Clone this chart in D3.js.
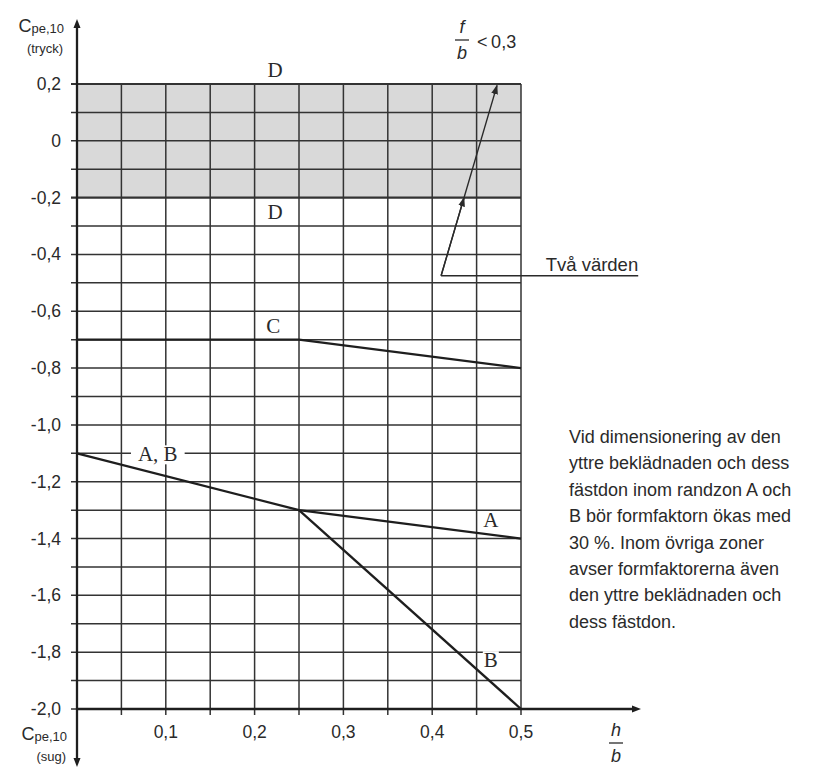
<!DOCTYPE html>
<html>
<head>
<meta charset="utf-8">
<script src="https://cdn.jsdelivr.net/npm/d3@7"></script>
<style>
  body { margin: 0; background: #fff; }
  svg { display: block; }
</style>
</head>
<body>
<div id="chart"></div>
<script>
// values
const xTicks = [0.1, 0.2, 0.3, 0.4, 0.5];
const xGrid = d3.range(0, 11).map(i => i * 0.05);
const yTicks = d3.range(0, 12).map(i => +(0.2 - i * 0.2).toFixed(1));
const yGrid = d3.range(0, 23).map(i => +(0.2 - i * 0.1).toFixed(1));
const zoneD = [0.2, -0.2];
const curveC = [[0, -0.7], [0.25, -0.7], [0.5, -0.8]];
const curveA = [[0, -1.1], [0.25, -1.3], [0.5, -1.4]];
const curveB = [[0.25, -1.3], [0.5, -2.0]];
const arrowLine = [[0.41, -0.475], [0.473, 0.195]];
const leaderEnd = 0.632;
const noteLines = [
  "Vid dimensionering av den",
  "yttre beklädnaden och dess",
  "fästdon inom randzon A och",
  "B bör formfaktorn ökas med",
  "30 %. Inom övriga zoner",
  "avser formfaktorerna även",
  "den yttre beklädnaden och",
  "dess fästdon."
];

const width = 816, height = 767;
const sans = "'Liberation Sans', Arial, sans-serif";
const serif = "'Liberation Serif', 'Times New Roman', serif";
const ink = "#2a2a2a";
const gridInk = "#333";

const svg = d3.select("#chart").append("svg")
  .attr("width", width).attr("height", height);

const defs = svg.append("defs");
defs.append("marker").attr("id", "head")
  .attr("viewBox", "0 0 10 10").attr("refX", 9).attr("refY", 5)
  .attr("markerWidth", 7).attr("markerHeight", 7).attr("orient", "auto")
  .append("path").attr("d", "M0,1.5 L10,5 L0,8.5 Z").attr("fill", ink);

const x = d3.scaleLinear().domain([0, 0.5]).range([77, 521]);
const y = d3.scaleLinear().domain([-2.0, 0.2]).range([709, 84]);

const fmt = d => {
  const s = d3.format(".1f")(d).replace("−", "-").replace(".", ",");
  return (s === "0,0" || s === "-0,0") ? "0" : s;
};

// gray zone D
svg.append("rect")
  .attr("x", x(0)).attr("y", y(zoneD[0]))
  .attr("width", x(0.5) - x(0)).attr("height", y(zoneD[1]) - y(zoneD[0]))
  .attr("fill", "#d9d9d9");

// grid
svg.append("g").selectAll("line").data(yGrid).join("line")
  .attr("x1", x(0) - 6).attr("x2", x(0.5))
  .attr("y1", d => y(d)).attr("y2", d => y(d))
  .attr("stroke", gridInk)
  .attr("stroke-width", d => (d === 0.2 || d === -0.2) ? 2.2 : 1.5);

svg.append("g").selectAll("line").data(xGrid).join("line")
  .attr("x1", d => x(d)).attr("x2", d => x(d))
  .attr("y1", y(0.2)).attr("y2", y(-2.0) + 6)
  .attr("stroke", gridInk).attr("stroke-width", 1.5);

// labels; some sit on a white box that interrupts the grid
function boxLabel(txt, px, py, size, pad) {
  const t = svg.append("text").attr("x", px).attr("y", py)
    .attr("font-family", serif).attr("font-size", size)
    .attr("text-anchor", "middle").attr("fill", ink).text(txt);
  if (pad !== null) {
    const b = t.node().getBBox();
    svg.insert("rect", "text")
      .attr("x", b.x - pad).attr("y", b.y + 3)
      .attr("width", b.width + 2 * pad).attr("height", b.height - 5)
      .attr("fill", "#fff");
  }
  return t;
}

const line = d3.line().x(d => x(d[0])).y(d => y(d[1]));
const curves = svg.append("g");

boxLabel("A, B", x(0.091), y(-1.1) + 8, 21, 7);
boxLabel("A", x(0.466), y(-1.3) + 17, 21, 1);
boxLabel("B", x(0.466), y(-1.8) + 15, 21, 1);

[curveC, curveA, curveB].forEach(c => {
  curves.append("path").datum(c).attr("d", line)
    .attr("fill", "none").attr("stroke", "#1e1e1e").attr("stroke-width", 2.3);
});

boxLabel("D", x(0.223), y(0.2) - 7, 21, null);
boxLabel("D", x(0.223), y(-0.2) + 21, 21, null);
boxLabel("C", x(0.221), y(-0.7) - 7, 21, null);

// axes
svg.append("line").attr("x1", x(0)).attr("x2", x(0))
  .attr("y1", 26).attr("y2", 762)
  .attr("stroke", "#1e1e1e").attr("stroke-width", 2.3);
svg.append("path").attr("d", `M${x(0)},19 l-3.5,9 l7,0 Z`).attr("fill", "#1e1e1e");
svg.append("path").attr("d", `M${x(0)},767 l-3.5,-9 l7,0 Z`).attr("fill", "#1e1e1e");
svg.append("line").attr("x1", x(0)).attr("x2", 634)
  .attr("y1", y(-2.0)).attr("y2", y(-2.0))
  .attr("stroke", "#1e1e1e").attr("stroke-width", 2.3);
svg.append("path").attr("d", `M641,${y(-2.0)} l-9,-3.5 l0,7 Z`).attr("fill", "#1e1e1e");

// tick labels
svg.append("g").selectAll("text").data(yTicks).join("text")
  .attr("x", 61).attr("y", d => y(d) + 6)
  .attr("text-anchor", "end").attr("font-family", sans).attr("font-size", 17.5)
  .attr("fill", ink).text(fmt);

svg.append("g").selectAll("text").data(xTicks).join("text")
  .attr("x", d => x(d)).attr("y", 738)
  .attr("text-anchor", "middle").attr("font-family", sans).attr("font-size", 17.5)
  .attr("fill", ink).text(fmt);

// axis titles
function cpe(px, py, sub) {
  const t = svg.append("text").attr("x", px).attr("y", py)
    .attr("text-anchor", "end").attr("font-family", sans).attr("fill", ink);
  t.append("tspan").attr("font-size", 18).text("C");
  t.append("tspan").attr("font-size", 13).attr("dy", 1).text("pe,10");
  svg.append("text").attr("x", px - 1).attr("y", py + 21)
    .attr("text-anchor", "end").attr("font-family", sans).attr("font-size", 13)
    .attr("fill", ink).text(sub);
}
cpe(64, 32, "(tryck)");
cpe(67, 740, "(sug)");

function fraction(cx, top, num, den) {
  svg.append("text").attr("x", cx).attr("y", top)
    .attr("text-anchor", "middle").attr("font-family", sans)
    .attr("font-style", "italic").attr("font-size", 18).attr("fill", ink).text(num);
  svg.append("line").attr("x1", cx - 7).attr("x2", cx + 7)
    .attr("y1", top + 7).attr("y2", top + 7).attr("stroke", ink).attr("stroke-width", 1.3);
  svg.append("text").attr("x", cx).attr("y", top + 26)
    .attr("text-anchor", "middle").attr("font-family", sans)
    .attr("font-style", "italic").attr("font-size", 18).attr("fill", ink).text(den);
}
fraction(616, 736, "h", "b");
fraction(462, 33, "f", "b");
svg.append("text").attr("x", 477).attr("y", 48)
  .attr("font-family", sans).attr("font-size", 18).attr("fill", ink).text("<\u20090,3");

// "Två värden" arrow
const p0 = [x(arrowLine[0][0]), y(arrowLine[0][1])];
const p1 = [x(arrowLine[1][0]), y(arrowLine[1][1])];
svg.append("line").attr("x1", p0[0]).attr("y1", p0[1]).attr("x2", p1[0]).attr("y2", p1[1])
  .attr("stroke", ink).attr("stroke-width", 1.4).attr("marker-end", "url(#head)");
const tMid = (y(-0.2) - p0[1]) / (p1[1] - p0[1]);
const pm = [p0[0] + tMid * (p1[0] - p0[0]), p0[1] + tMid * (p1[1] - p0[1])];
svg.append("line").attr("x1", p0[0]).attr("y1", p0[1]).attr("x2", pm[0]).attr("y2", pm[1])
  .attr("stroke", ink).attr("stroke-width", 1.4).attr("marker-end", "url(#head)");
svg.append("line").attr("x1", p0[0]).attr("x2", x(leaderEnd))
  .attr("y1", p0[1]).attr("y2", p0[1]).attr("stroke", ink).attr("stroke-width", 1.4);
svg.append("text").attr("x", x(leaderEnd)).attr("y", p0[1] - 5)
  .attr("text-anchor", "end").attr("font-family", sans).attr("font-size", 18.5)
  .attr("fill", ink).text("Två värden");

// note
svg.append("g").selectAll("text").data(noteLines).join("text")
  .attr("x", 569).attr("y", (d, i) => 443 + i * 26.4)
  .attr("font-family", sans).attr("font-size", 18).attr("fill", ink)
  .text(d => d);
</script>
</body>
</html>
